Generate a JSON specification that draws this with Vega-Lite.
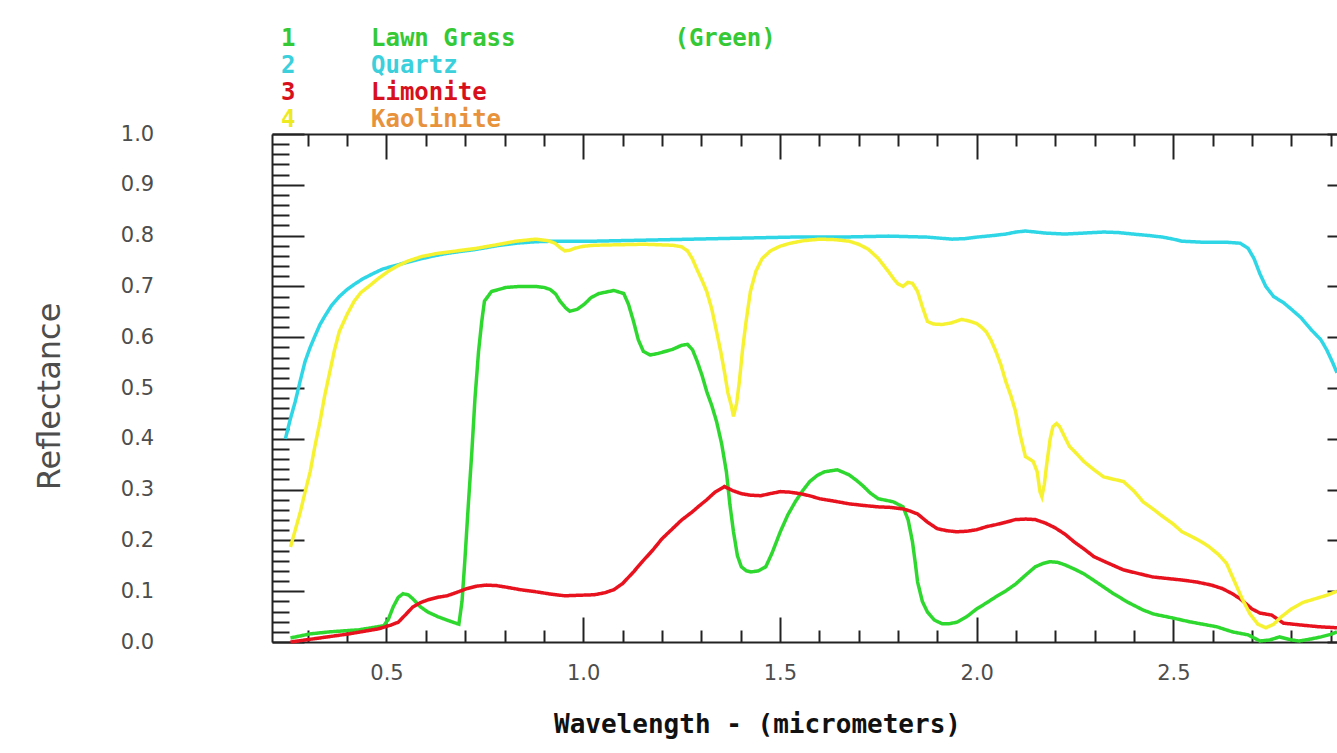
{
  "$schema": "https://vega.github.io/schema/vega-lite/v6.json",
  "width": 1065,
  "height": 508,
  "autosize": {"type": "none"},
  "padding": {"left": 272, "top": 134, "right": 0, "bottom": 111},
  "background": "white",
  "config": {
    "view": {"stroke": null},
    "axis": {
      "domainColor": "#222222",
      "domainWidth": 2,
      "tickColor": "#222222",
      "tickWidth": 2,
      "grid": false,
      "labelFont": "DejaVu Sans",
      "labelFontSize": 21,
      "labelColor": "#4d4d4d",
      "labelOverlap": false,
      "labelFlush": false,
      "labelBound": false
    }
  },
  "data": {
    "values": [
      {"material": "Lawn Grass", "num": 1, "wavelength": 0.256, "reflectance": 0.008},
      {"material": "Lawn Grass", "num": 1, "wavelength": 0.306, "reflectance": 0.016},
      {"material": "Lawn Grass", "num": 1, "wavelength": 0.356, "reflectance": 0.020},
      {"material": "Lawn Grass", "num": 1, "wavelength": 0.43, "reflectance": 0.024},
      {"material": "Lawn Grass", "num": 1, "wavelength": 0.493, "reflectance": 0.032},
      {"material": "Lawn Grass", "num": 1, "wavelength": 0.505, "reflectance": 0.045},
      {"material": "Lawn Grass", "num": 1, "wavelength": 0.517, "reflectance": 0.069},
      {"material": "Lawn Grass", "num": 1, "wavelength": 0.53, "reflectance": 0.088},
      {"material": "Lawn Grass", "num": 1, "wavelength": 0.542, "reflectance": 0.095},
      {"material": "Lawn Grass", "num": 1, "wavelength": 0.555, "reflectance": 0.093},
      {"material": "Lawn Grass", "num": 1, "wavelength": 0.567, "reflectance": 0.085},
      {"material": "Lawn Grass", "num": 1, "wavelength": 0.585, "reflectance": 0.07},
      {"material": "Lawn Grass", "num": 1, "wavelength": 0.605, "reflectance": 0.059},
      {"material": "Lawn Grass", "num": 1, "wavelength": 0.63, "reflectance": 0.05},
      {"material": "Lawn Grass", "num": 1, "wavelength": 0.654, "reflectance": 0.043},
      {"material": "Lawn Grass", "num": 1, "wavelength": 0.684, "reflectance": 0.035},
      {"material": "Lawn Grass", "num": 1, "wavelength": 0.692, "reflectance": 0.08},
      {"material": "Lawn Grass", "num": 1, "wavelength": 0.699, "reflectance": 0.158},
      {"material": "Lawn Grass", "num": 1, "wavelength": 0.708, "reflectance": 0.27},
      {"material": "Lawn Grass", "num": 1, "wavelength": 0.717, "reflectance": 0.375},
      {"material": "Lawn Grass", "num": 1, "wavelength": 0.725, "reflectance": 0.48},
      {"material": "Lawn Grass", "num": 1, "wavelength": 0.734, "reflectance": 0.572},
      {"material": "Lawn Grass", "num": 1, "wavelength": 0.742, "reflectance": 0.63},
      {"material": "Lawn Grass", "num": 1, "wavelength": 0.749, "reflectance": 0.671},
      {"material": "Lawn Grass", "num": 1, "wavelength": 0.767, "reflectance": 0.690},
      {"material": "Lawn Grass", "num": 1, "wavelength": 0.804, "reflectance": 0.698},
      {"material": "Lawn Grass", "num": 1, "wavelength": 0.84, "reflectance": 0.700},
      {"material": "Lawn Grass", "num": 1, "wavelength": 0.879, "reflectance": 0.700},
      {"material": "Lawn Grass", "num": 1, "wavelength": 0.90, "reflectance": 0.698},
      {"material": "Lawn Grass", "num": 1, "wavelength": 0.916, "reflectance": 0.694},
      {"material": "Lawn Grass", "num": 1, "wavelength": 0.93, "reflectance": 0.685},
      {"material": "Lawn Grass", "num": 1, "wavelength": 0.941, "reflectance": 0.671},
      {"material": "Lawn Grass", "num": 1, "wavelength": 0.955, "reflectance": 0.658},
      {"material": "Lawn Grass", "num": 1, "wavelength": 0.966, "reflectance": 0.651},
      {"material": "Lawn Grass", "num": 1, "wavelength": 0.985, "reflectance": 0.655},
      {"material": "Lawn Grass", "num": 1, "wavelength": 1.003, "reflectance": 0.665},
      {"material": "Lawn Grass", "num": 1, "wavelength": 1.02, "reflectance": 0.678},
      {"material": "Lawn Grass", "num": 1, "wavelength": 1.04, "reflectance": 0.686},
      {"material": "Lawn Grass", "num": 1, "wavelength": 1.078, "reflectance": 0.692},
      {"material": "Lawn Grass", "num": 1, "wavelength": 1.103, "reflectance": 0.686},
      {"material": "Lawn Grass", "num": 1, "wavelength": 1.115, "reflectance": 0.665},
      {"material": "Lawn Grass", "num": 1, "wavelength": 1.128, "reflectance": 0.631},
      {"material": "Lawn Grass", "num": 1, "wavelength": 1.14, "reflectance": 0.595},
      {"material": "Lawn Grass", "num": 1, "wavelength": 1.153, "reflectance": 0.572},
      {"material": "Lawn Grass", "num": 1, "wavelength": 1.17, "reflectance": 0.565},
      {"material": "Lawn Grass", "num": 1, "wavelength": 1.19, "reflectance": 0.568},
      {"material": "Lawn Grass", "num": 1, "wavelength": 1.227, "reflectance": 0.576},
      {"material": "Lawn Grass", "num": 1, "wavelength": 1.25, "reflectance": 0.584},
      {"material": "Lawn Grass", "num": 1, "wavelength": 1.265, "reflectance": 0.586},
      {"material": "Lawn Grass", "num": 1, "wavelength": 1.278, "reflectance": 0.575},
      {"material": "Lawn Grass", "num": 1, "wavelength": 1.29, "reflectance": 0.552},
      {"material": "Lawn Grass", "num": 1, "wavelength": 1.302, "reflectance": 0.525},
      {"material": "Lawn Grass", "num": 1, "wavelength": 1.314, "reflectance": 0.493},
      {"material": "Lawn Grass", "num": 1, "wavelength": 1.327, "reflectance": 0.465},
      {"material": "Lawn Grass", "num": 1, "wavelength": 1.339, "reflectance": 0.434},
      {"material": "Lawn Grass", "num": 1, "wavelength": 1.352, "reflectance": 0.39},
      {"material": "Lawn Grass", "num": 1, "wavelength": 1.364, "reflectance": 0.335},
      {"material": "Lawn Grass", "num": 1, "wavelength": 1.373, "reflectance": 0.27},
      {"material": "Lawn Grass", "num": 1, "wavelength": 1.382, "reflectance": 0.217},
      {"material": "Lawn Grass", "num": 1, "wavelength": 1.392, "reflectance": 0.17},
      {"material": "Lawn Grass", "num": 1, "wavelength": 1.402, "reflectance": 0.148},
      {"material": "Lawn Grass", "num": 1, "wavelength": 1.415, "reflectance": 0.14},
      {"material": "Lawn Grass", "num": 1, "wavelength": 1.427, "reflectance": 0.138},
      {"material": "Lawn Grass", "num": 1, "wavelength": 1.445, "reflectance": 0.14},
      {"material": "Lawn Grass", "num": 1, "wavelength": 1.464, "reflectance": 0.148},
      {"material": "Lawn Grass", "num": 1, "wavelength": 1.48, "reflectance": 0.175},
      {"material": "Lawn Grass", "num": 1, "wavelength": 1.501, "reflectance": 0.217},
      {"material": "Lawn Grass", "num": 1, "wavelength": 1.52, "reflectance": 0.25},
      {"material": "Lawn Grass", "num": 1, "wavelength": 1.539, "reflectance": 0.276},
      {"material": "Lawn Grass", "num": 1, "wavelength": 1.558, "reflectance": 0.298},
      {"material": "Lawn Grass", "num": 1, "wavelength": 1.576, "reflectance": 0.316},
      {"material": "Lawn Grass", "num": 1, "wavelength": 1.595, "reflectance": 0.328},
      {"material": "Lawn Grass", "num": 1, "wavelength": 1.613, "reflectance": 0.335},
      {"material": "Lawn Grass", "num": 1, "wavelength": 1.646, "reflectance": 0.339},
      {"material": "Lawn Grass", "num": 1, "wavelength": 1.676, "reflectance": 0.329},
      {"material": "Lawn Grass", "num": 1, "wavelength": 1.695, "reflectance": 0.318},
      {"material": "Lawn Grass", "num": 1, "wavelength": 1.713, "reflectance": 0.306},
      {"material": "Lawn Grass", "num": 1, "wavelength": 1.73, "reflectance": 0.293},
      {"material": "Lawn Grass", "num": 1, "wavelength": 1.750, "reflectance": 0.282},
      {"material": "Lawn Grass", "num": 1, "wavelength": 1.788, "reflectance": 0.276},
      {"material": "Lawn Grass", "num": 1, "wavelength": 1.813, "reflectance": 0.266},
      {"material": "Lawn Grass", "num": 1, "wavelength": 1.826, "reflectance": 0.24},
      {"material": "Lawn Grass", "num": 1, "wavelength": 1.837, "reflectance": 0.197},
      {"material": "Lawn Grass", "num": 1, "wavelength": 1.845, "reflectance": 0.15},
      {"material": "Lawn Grass", "num": 1, "wavelength": 1.850, "reflectance": 0.118},
      {"material": "Lawn Grass", "num": 1, "wavelength": 1.862, "reflectance": 0.08},
      {"material": "Lawn Grass", "num": 1, "wavelength": 1.875, "reflectance": 0.059},
      {"material": "Lawn Grass", "num": 1, "wavelength": 1.893, "reflectance": 0.043},
      {"material": "Lawn Grass", "num": 1, "wavelength": 1.912, "reflectance": 0.036},
      {"material": "Lawn Grass", "num": 1, "wavelength": 1.93, "reflectance": 0.036},
      {"material": "Lawn Grass", "num": 1, "wavelength": 1.950, "reflectance": 0.039},
      {"material": "Lawn Grass", "num": 1, "wavelength": 1.975, "reflectance": 0.05},
      {"material": "Lawn Grass", "num": 1, "wavelength": 2.0, "reflectance": 0.065},
      {"material": "Lawn Grass", "num": 1, "wavelength": 2.025, "reflectance": 0.077},
      {"material": "Lawn Grass", "num": 1, "wavelength": 2.049, "reflectance": 0.089},
      {"material": "Lawn Grass", "num": 1, "wavelength": 2.075, "reflectance": 0.101},
      {"material": "Lawn Grass", "num": 1, "wavelength": 2.099, "reflectance": 0.114},
      {"material": "Lawn Grass", "num": 1, "wavelength": 2.125, "reflectance": 0.132},
      {"material": "Lawn Grass", "num": 1, "wavelength": 2.149, "reflectance": 0.148},
      {"material": "Lawn Grass", "num": 1, "wavelength": 2.17, "reflectance": 0.155},
      {"material": "Lawn Grass", "num": 1, "wavelength": 2.186, "reflectance": 0.158},
      {"material": "Lawn Grass", "num": 1, "wavelength": 2.205, "reflectance": 0.157},
      {"material": "Lawn Grass", "num": 1, "wavelength": 2.224, "reflectance": 0.152},
      {"material": "Lawn Grass", "num": 1, "wavelength": 2.25, "reflectance": 0.143},
      {"material": "Lawn Grass", "num": 1, "wavelength": 2.273, "reflectance": 0.134},
      {"material": "Lawn Grass", "num": 1, "wavelength": 2.31, "reflectance": 0.115},
      {"material": "Lawn Grass", "num": 1, "wavelength": 2.348, "reflectance": 0.095},
      {"material": "Lawn Grass", "num": 1, "wavelength": 2.385, "reflectance": 0.078},
      {"material": "Lawn Grass", "num": 1, "wavelength": 2.423, "reflectance": 0.063},
      {"material": "Lawn Grass", "num": 1, "wavelength": 2.45, "reflectance": 0.055},
      {"material": "Lawn Grass", "num": 1, "wavelength": 2.5, "reflectance": 0.047},
      {"material": "Lawn Grass", "num": 1, "wavelength": 2.54, "reflectance": 0.040},
      {"material": "Lawn Grass", "num": 1, "wavelength": 2.61, "reflectance": 0.030},
      {"material": "Lawn Grass", "num": 1, "wavelength": 2.65, "reflectance": 0.020},
      {"material": "Lawn Grass", "num": 1, "wavelength": 2.69, "reflectance": 0.014},
      {"material": "Lawn Grass", "num": 1, "wavelength": 2.72, "reflectance": 0.002},
      {"material": "Lawn Grass", "num": 1, "wavelength": 2.745, "reflectance": 0.004},
      {"material": "Lawn Grass", "num": 1, "wavelength": 2.77, "reflectance": 0.010},
      {"material": "Lawn Grass", "num": 1, "wavelength": 2.80, "reflectance": 0.004},
      {"material": "Lawn Grass", "num": 1, "wavelength": 2.82, "reflectance": 0.002},
      {"material": "Lawn Grass", "num": 1, "wavelength": 2.85, "reflectance": 0.006},
      {"material": "Lawn Grass", "num": 1, "wavelength": 2.875, "reflectance": 0.010},
      {"material": "Lawn Grass", "num": 1, "wavelength": 2.90, "reflectance": 0.015},
      {"material": "Lawn Grass", "num": 1, "wavelength": 2.916, "reflectance": 0.02},

      {"material": "Quartz", "num": 2, "wavelength": 0.243, "reflectance": 0.40},
      {"material": "Quartz", "num": 2, "wavelength": 0.256, "reflectance": 0.44},
      {"material": "Quartz", "num": 2, "wavelength": 0.268, "reflectance": 0.473},
      {"material": "Quartz", "num": 2, "wavelength": 0.281, "reflectance": 0.515},
      {"material": "Quartz", "num": 2, "wavelength": 0.293, "reflectance": 0.552},
      {"material": "Quartz", "num": 2, "wavelength": 0.306, "reflectance": 0.58},
      {"material": "Quartz", "num": 2, "wavelength": 0.318, "reflectance": 0.602},
      {"material": "Quartz", "num": 2, "wavelength": 0.331, "reflectance": 0.625},
      {"material": "Quartz", "num": 2, "wavelength": 0.343, "reflectance": 0.641},
      {"material": "Quartz", "num": 2, "wavelength": 0.36, "reflectance": 0.662},
      {"material": "Quartz", "num": 2, "wavelength": 0.38, "reflectance": 0.68},
      {"material": "Quartz", "num": 2, "wavelength": 0.40, "reflectance": 0.694},
      {"material": "Quartz", "num": 2, "wavelength": 0.418, "reflectance": 0.704},
      {"material": "Quartz", "num": 2, "wavelength": 0.44, "reflectance": 0.715},
      {"material": "Quartz", "num": 2, "wavelength": 0.468, "reflectance": 0.726},
      {"material": "Quartz", "num": 2, "wavelength": 0.49, "reflectance": 0.734},
      {"material": "Quartz", "num": 2, "wavelength": 0.517, "reflectance": 0.740},
      {"material": "Quartz", "num": 2, "wavelength": 0.55, "reflectance": 0.747},
      {"material": "Quartz", "num": 2, "wavelength": 0.58, "reflectance": 0.753},
      {"material": "Quartz", "num": 2, "wavelength": 0.62, "reflectance": 0.76},
      {"material": "Quartz", "num": 2, "wavelength": 0.654, "reflectance": 0.765},
      {"material": "Quartz", "num": 2, "wavelength": 0.69, "reflectance": 0.769},
      {"material": "Quartz", "num": 2, "wavelength": 0.729, "reflectance": 0.773},
      {"material": "Quartz", "num": 2, "wavelength": 0.78, "reflectance": 0.78},
      {"material": "Quartz", "num": 2, "wavelength": 0.829, "reflectance": 0.785},
      {"material": "Quartz", "num": 2, "wavelength": 0.88, "reflectance": 0.788},
      {"material": "Quartz", "num": 2, "wavelength": 0.928, "reflectance": 0.789},
      {"material": "Quartz", "num": 2, "wavelength": 1.028, "reflectance": 0.789},
      {"material": "Quartz", "num": 2, "wavelength": 1.153, "reflectance": 0.791},
      {"material": "Quartz", "num": 2, "wavelength": 1.278, "reflectance": 0.793},
      {"material": "Quartz", "num": 2, "wavelength": 1.402, "reflectance": 0.795},
      {"material": "Quartz", "num": 2, "wavelength": 1.527, "reflectance": 0.797},
      {"material": "Quartz", "num": 2, "wavelength": 1.651, "reflectance": 0.797},
      {"material": "Quartz", "num": 2, "wavelength": 1.776, "reflectance": 0.799},
      {"material": "Quartz", "num": 2, "wavelength": 1.875, "reflectance": 0.797},
      {"material": "Quartz", "num": 2, "wavelength": 1.937, "reflectance": 0.793},
      {"material": "Quartz", "num": 2, "wavelength": 1.97, "reflectance": 0.794},
      {"material": "Quartz", "num": 2, "wavelength": 2.0, "reflectance": 0.797},
      {"material": "Quartz", "num": 2, "wavelength": 2.04, "reflectance": 0.800},
      {"material": "Quartz", "num": 2, "wavelength": 2.074, "reflectance": 0.803},
      {"material": "Quartz", "num": 2, "wavelength": 2.10, "reflectance": 0.807},
      {"material": "Quartz", "num": 2, "wavelength": 2.124, "reflectance": 0.809},
      {"material": "Quartz", "num": 2, "wavelength": 2.15, "reflectance": 0.807},
      {"material": "Quartz", "num": 2, "wavelength": 2.174, "reflectance": 0.805},
      {"material": "Quartz", "num": 2, "wavelength": 2.224, "reflectance": 0.803},
      {"material": "Quartz", "num": 2, "wavelength": 2.273, "reflectance": 0.805},
      {"material": "Quartz", "num": 2, "wavelength": 2.323, "reflectance": 0.807},
      {"material": "Quartz", "num": 2, "wavelength": 2.36, "reflectance": 0.806},
      {"material": "Quartz", "num": 2, "wavelength": 2.398, "reflectance": 0.803},
      {"material": "Quartz", "num": 2, "wavelength": 2.44, "reflectance": 0.80},
      {"material": "Quartz", "num": 2, "wavelength": 2.473, "reflectance": 0.797},
      {"material": "Quartz", "num": 2, "wavelength": 2.50, "reflectance": 0.793},
      {"material": "Quartz", "num": 2, "wavelength": 2.522, "reflectance": 0.789},
      {"material": "Quartz", "num": 2, "wavelength": 2.572, "reflectance": 0.787},
      {"material": "Quartz", "num": 2, "wavelength": 2.634, "reflectance": 0.787},
      {"material": "Quartz", "num": 2, "wavelength": 2.67, "reflectance": 0.785},
      {"material": "Quartz", "num": 2, "wavelength": 2.69, "reflectance": 0.775},
      {"material": "Quartz", "num": 2, "wavelength": 2.705, "reflectance": 0.755},
      {"material": "Quartz", "num": 2, "wavelength": 2.72, "reflectance": 0.725},
      {"material": "Quartz", "num": 2, "wavelength": 2.735, "reflectance": 0.700},
      {"material": "Quartz", "num": 2, "wavelength": 2.755, "reflectance": 0.680},
      {"material": "Quartz", "num": 2, "wavelength": 2.78, "reflectance": 0.668},
      {"material": "Quartz", "num": 2, "wavelength": 2.80, "reflectance": 0.655},
      {"material": "Quartz", "num": 2, "wavelength": 2.825, "reflectance": 0.638},
      {"material": "Quartz", "num": 2, "wavelength": 2.85, "reflectance": 0.615},
      {"material": "Quartz", "num": 2, "wavelength": 2.875, "reflectance": 0.595},
      {"material": "Quartz", "num": 2, "wavelength": 2.89, "reflectance": 0.575},
      {"material": "Quartz", "num": 2, "wavelength": 2.905, "reflectance": 0.55},
      {"material": "Quartz", "num": 2, "wavelength": 2.916, "reflectance": 0.53},

      {"material": "Limonite", "num": 3, "wavelength": 0.256, "reflectance": 0.0},
      {"material": "Limonite", "num": 3, "wavelength": 0.331, "reflectance": 0.008},
      {"material": "Limonite", "num": 3, "wavelength": 0.405, "reflectance": 0.016},
      {"material": "Limonite", "num": 3, "wavelength": 0.48, "reflectance": 0.026},
      {"material": "Limonite", "num": 3, "wavelength": 0.51, "reflectance": 0.033},
      {"material": "Limonite", "num": 3, "wavelength": 0.530, "reflectance": 0.039},
      {"material": "Limonite", "num": 3, "wavelength": 0.55, "reflectance": 0.055},
      {"material": "Limonite", "num": 3, "wavelength": 0.567, "reflectance": 0.069},
      {"material": "Limonite", "num": 3, "wavelength": 0.585, "reflectance": 0.077},
      {"material": "Limonite", "num": 3, "wavelength": 0.605, "reflectance": 0.083},
      {"material": "Limonite", "num": 3, "wavelength": 0.63, "reflectance": 0.088},
      {"material": "Limonite", "num": 3, "wavelength": 0.654, "reflectance": 0.091},
      {"material": "Limonite", "num": 3, "wavelength": 0.68, "reflectance": 0.098},
      {"material": "Limonite", "num": 3, "wavelength": 0.704, "reflectance": 0.105},
      {"material": "Limonite", "num": 3, "wavelength": 0.73, "reflectance": 0.11},
      {"material": "Limonite", "num": 3, "wavelength": 0.754, "reflectance": 0.112},
      {"material": "Limonite", "num": 3, "wavelength": 0.78, "reflectance": 0.111},
      {"material": "Limonite", "num": 3, "wavelength": 0.804, "reflectance": 0.108},
      {"material": "Limonite", "num": 3, "wavelength": 0.84, "reflectance": 0.103},
      {"material": "Limonite", "num": 3, "wavelength": 0.879, "reflectance": 0.099},
      {"material": "Limonite", "num": 3, "wavelength": 0.92, "reflectance": 0.094},
      {"material": "Limonite", "num": 3, "wavelength": 0.953, "reflectance": 0.091},
      {"material": "Limonite", "num": 3, "wavelength": 0.99, "reflectance": 0.092},
      {"material": "Limonite", "num": 3, "wavelength": 1.028, "reflectance": 0.093},
      {"material": "Limonite", "num": 3, "wavelength": 1.055, "reflectance": 0.097},
      {"material": "Limonite", "num": 3, "wavelength": 1.078, "reflectance": 0.103},
      {"material": "Limonite", "num": 3, "wavelength": 1.10, "reflectance": 0.115},
      {"material": "Limonite", "num": 3, "wavelength": 1.128, "reflectance": 0.138},
      {"material": "Limonite", "num": 3, "wavelength": 1.15, "reflectance": 0.158},
      {"material": "Limonite", "num": 3, "wavelength": 1.177, "reflectance": 0.181},
      {"material": "Limonite", "num": 3, "wavelength": 1.20, "reflectance": 0.203},
      {"material": "Limonite", "num": 3, "wavelength": 1.227, "reflectance": 0.223},
      {"material": "Limonite", "num": 3, "wavelength": 1.25, "reflectance": 0.24},
      {"material": "Limonite", "num": 3, "wavelength": 1.277, "reflectance": 0.256},
      {"material": "Limonite", "num": 3, "wavelength": 1.295, "reflectance": 0.268},
      {"material": "Limonite", "num": 3, "wavelength": 1.314, "reflectance": 0.280},
      {"material": "Limonite", "num": 3, "wavelength": 1.335, "reflectance": 0.295},
      {"material": "Limonite", "num": 3, "wavelength": 1.359, "reflectance": 0.306},
      {"material": "Limonite", "num": 3, "wavelength": 1.38, "reflectance": 0.298},
      {"material": "Limonite", "num": 3, "wavelength": 1.402, "reflectance": 0.292},
      {"material": "Limonite", "num": 3, "wavelength": 1.425, "reflectance": 0.289},
      {"material": "Limonite", "num": 3, "wavelength": 1.451, "reflectance": 0.288},
      {"material": "Limonite", "num": 3, "wavelength": 1.475, "reflectance": 0.292},
      {"material": "Limonite", "num": 3, "wavelength": 1.501, "reflectance": 0.296},
      {"material": "Limonite", "num": 3, "wavelength": 1.525, "reflectance": 0.295},
      {"material": "Limonite", "num": 3, "wavelength": 1.551, "reflectance": 0.292},
      {"material": "Limonite", "num": 3, "wavelength": 1.575, "reflectance": 0.288},
      {"material": "Limonite", "num": 3, "wavelength": 1.601, "reflectance": 0.282},
      {"material": "Limonite", "num": 3, "wavelength": 1.64, "reflectance": 0.277},
      {"material": "Limonite", "num": 3, "wavelength": 1.676, "reflectance": 0.272},
      {"material": "Limonite", "num": 3, "wavelength": 1.71, "reflectance": 0.269},
      {"material": "Limonite", "num": 3, "wavelength": 1.750, "reflectance": 0.266},
      {"material": "Limonite", "num": 3, "wavelength": 1.78, "reflectance": 0.265},
      {"material": "Limonite", "num": 3, "wavelength": 1.813, "reflectance": 0.262},
      {"material": "Limonite", "num": 3, "wavelength": 1.83, "reflectance": 0.258},
      {"material": "Limonite", "num": 3, "wavelength": 1.850, "reflectance": 0.252},
      {"material": "Limonite", "num": 3, "wavelength": 1.875, "reflectance": 0.236},
      {"material": "Limonite", "num": 3, "wavelength": 1.900, "reflectance": 0.223},
      {"material": "Limonite", "num": 3, "wavelength": 1.925, "reflectance": 0.219},
      {"material": "Limonite", "num": 3, "wavelength": 1.950, "reflectance": 0.217},
      {"material": "Limonite", "num": 3, "wavelength": 1.975, "reflectance": 0.218},
      {"material": "Limonite", "num": 3, "wavelength": 2.0, "reflectance": 0.221},
      {"material": "Limonite", "num": 3, "wavelength": 2.025, "reflectance": 0.227},
      {"material": "Limonite", "num": 3, "wavelength": 2.049, "reflectance": 0.231},
      {"material": "Limonite", "num": 3, "wavelength": 2.075, "reflectance": 0.236},
      {"material": "Limonite", "num": 3, "wavelength": 2.099, "reflectance": 0.241},
      {"material": "Limonite", "num": 3, "wavelength": 2.125, "reflectance": 0.242},
      {"material": "Limonite", "num": 3, "wavelength": 2.149, "reflectance": 0.241},
      {"material": "Limonite", "num": 3, "wavelength": 2.175, "reflectance": 0.234},
      {"material": "Limonite", "num": 3, "wavelength": 2.199, "reflectance": 0.225},
      {"material": "Limonite", "num": 3, "wavelength": 2.225, "reflectance": 0.212},
      {"material": "Limonite", "num": 3, "wavelength": 2.248, "reflectance": 0.197},
      {"material": "Limonite", "num": 3, "wavelength": 2.275, "reflectance": 0.182},
      {"material": "Limonite", "num": 3, "wavelength": 2.298, "reflectance": 0.168},
      {"material": "Limonite", "num": 3, "wavelength": 2.335, "reflectance": 0.155},
      {"material": "Limonite", "num": 3, "wavelength": 2.373, "reflectance": 0.142},
      {"material": "Limonite", "num": 3, "wavelength": 2.41, "reflectance": 0.135},
      {"material": "Limonite", "num": 3, "wavelength": 2.448, "reflectance": 0.128},
      {"material": "Limonite", "num": 3, "wavelength": 2.485, "reflectance": 0.125},
      {"material": "Limonite", "num": 3, "wavelength": 2.522, "reflectance": 0.122},
      {"material": "Limonite", "num": 3, "wavelength": 2.56, "reflectance": 0.118},
      {"material": "Limonite", "num": 3, "wavelength": 2.597, "reflectance": 0.112},
      {"material": "Limonite", "num": 3, "wavelength": 2.625, "reflectance": 0.105},
      {"material": "Limonite", "num": 3, "wavelength": 2.65, "reflectance": 0.095},
      {"material": "Limonite", "num": 3, "wavelength": 2.67, "reflectance": 0.085},
      {"material": "Limonite", "num": 3, "wavelength": 2.685, "reflectance": 0.075},
      {"material": "Limonite", "num": 3, "wavelength": 2.70, "reflectance": 0.065},
      {"material": "Limonite", "num": 3, "wavelength": 2.72, "reflectance": 0.057},
      {"material": "Limonite", "num": 3, "wavelength": 2.75, "reflectance": 0.053},
      {"material": "Limonite", "num": 3, "wavelength": 2.765, "reflectance": 0.045},
      {"material": "Limonite", "num": 3, "wavelength": 2.78, "reflectance": 0.037},
      {"material": "Limonite", "num": 3, "wavelength": 2.83, "reflectance": 0.033},
      {"material": "Limonite", "num": 3, "wavelength": 2.87, "reflectance": 0.03},
      {"material": "Limonite", "num": 3, "wavelength": 2.916, "reflectance": 0.028},

      {"material": "Kaolinite", "num": 4, "wavelength": 0.256, "reflectance": 0.187},
      {"material": "Kaolinite", "num": 4, "wavelength": 0.268, "reflectance": 0.22},
      {"material": "Kaolinite", "num": 4, "wavelength": 0.281, "reflectance": 0.256},
      {"material": "Kaolinite", "num": 4, "wavelength": 0.293, "reflectance": 0.295},
      {"material": "Kaolinite", "num": 4, "wavelength": 0.306, "reflectance": 0.335},
      {"material": "Kaolinite", "num": 4, "wavelength": 0.318, "reflectance": 0.385},
      {"material": "Kaolinite", "num": 4, "wavelength": 0.331, "reflectance": 0.434},
      {"material": "Kaolinite", "num": 4, "wavelength": 0.343, "reflectance": 0.485},
      {"material": "Kaolinite", "num": 4, "wavelength": 0.356, "reflectance": 0.532},
      {"material": "Kaolinite", "num": 4, "wavelength": 0.368, "reflectance": 0.575},
      {"material": "Kaolinite", "num": 4, "wavelength": 0.380, "reflectance": 0.611},
      {"material": "Kaolinite", "num": 4, "wavelength": 0.40, "reflectance": 0.645},
      {"material": "Kaolinite", "num": 4, "wavelength": 0.418, "reflectance": 0.671},
      {"material": "Kaolinite", "num": 4, "wavelength": 0.435, "reflectance": 0.688},
      {"material": "Kaolinite", "num": 4, "wavelength": 0.455, "reflectance": 0.700},
      {"material": "Kaolinite", "num": 4, "wavelength": 0.48, "reflectance": 0.716},
      {"material": "Kaolinite", "num": 4, "wavelength": 0.505, "reflectance": 0.730},
      {"material": "Kaolinite", "num": 4, "wavelength": 0.53, "reflectance": 0.741},
      {"material": "Kaolinite", "num": 4, "wavelength": 0.555, "reflectance": 0.75},
      {"material": "Kaolinite", "num": 4, "wavelength": 0.59, "reflectance": 0.759},
      {"material": "Kaolinite", "num": 4, "wavelength": 0.630, "reflectance": 0.765},
      {"material": "Kaolinite", "num": 4, "wavelength": 0.68, "reflectance": 0.770},
      {"material": "Kaolinite", "num": 4, "wavelength": 0.729, "reflectance": 0.775},
      {"material": "Kaolinite", "num": 4, "wavelength": 0.78, "reflectance": 0.782},
      {"material": "Kaolinite", "num": 4, "wavelength": 0.829, "reflectance": 0.789},
      {"material": "Kaolinite", "num": 4, "wavelength": 0.879, "reflectance": 0.793},
      {"material": "Kaolinite", "num": 4, "wavelength": 0.91, "reflectance": 0.79},
      {"material": "Kaolinite", "num": 4, "wavelength": 0.928, "reflectance": 0.785},
      {"material": "Kaolinite", "num": 4, "wavelength": 0.942, "reflectance": 0.776},
      {"material": "Kaolinite", "num": 4, "wavelength": 0.953, "reflectance": 0.770},
      {"material": "Kaolinite", "num": 4, "wavelength": 0.965, "reflectance": 0.771},
      {"material": "Kaolinite", "num": 4, "wavelength": 0.978, "reflectance": 0.775},
      {"material": "Kaolinite", "num": 4, "wavelength": 1.0, "reflectance": 0.779},
      {"material": "Kaolinite", "num": 4, "wavelength": 1.028, "reflectance": 0.781},
      {"material": "Kaolinite", "num": 4, "wavelength": 1.09, "reflectance": 0.782},
      {"material": "Kaolinite", "num": 4, "wavelength": 1.153, "reflectance": 0.783},
      {"material": "Kaolinite", "num": 4, "wavelength": 1.227, "reflectance": 0.781},
      {"material": "Kaolinite", "num": 4, "wavelength": 1.25, "reflectance": 0.778},
      {"material": "Kaolinite", "num": 4, "wavelength": 1.265, "reflectance": 0.770},
      {"material": "Kaolinite", "num": 4, "wavelength": 1.277, "reflectance": 0.755},
      {"material": "Kaolinite", "num": 4, "wavelength": 1.29, "reflectance": 0.732},
      {"material": "Kaolinite", "num": 4, "wavelength": 1.302, "reflectance": 0.712},
      {"material": "Kaolinite", "num": 4, "wavelength": 1.314, "reflectance": 0.690},
      {"material": "Kaolinite", "num": 4, "wavelength": 1.327, "reflectance": 0.655},
      {"material": "Kaolinite", "num": 4, "wavelength": 1.339, "reflectance": 0.611},
      {"material": "Kaolinite", "num": 4, "wavelength": 1.35, "reflectance": 0.57},
      {"material": "Kaolinite", "num": 4, "wavelength": 1.359, "reflectance": 0.532},
      {"material": "Kaolinite", "num": 4, "wavelength": 1.368, "reflectance": 0.49},
      {"material": "Kaolinite", "num": 4, "wavelength": 1.377, "reflectance": 0.464},
      {"material": "Kaolinite", "num": 4, "wavelength": 1.382, "reflectance": 0.444},
      {"material": "Kaolinite", "num": 4, "wavelength": 1.39, "reflectance": 0.47},
      {"material": "Kaolinite", "num": 4, "wavelength": 1.397, "reflectance": 0.513},
      {"material": "Kaolinite", "num": 4, "wavelength": 1.405, "reflectance": 0.575},
      {"material": "Kaolinite", "num": 4, "wavelength": 1.414, "reflectance": 0.631},
      {"material": "Kaolinite", "num": 4, "wavelength": 1.425, "reflectance": 0.69},
      {"material": "Kaolinite", "num": 4, "wavelength": 1.439, "reflectance": 0.730},
      {"material": "Kaolinite", "num": 4, "wavelength": 1.455, "reflectance": 0.755},
      {"material": "Kaolinite", "num": 4, "wavelength": 1.476, "reflectance": 0.770},
      {"material": "Kaolinite", "num": 4, "wavelength": 1.5, "reflectance": 0.779},
      {"material": "Kaolinite", "num": 4, "wavelength": 1.526, "reflectance": 0.785},
      {"material": "Kaolinite", "num": 4, "wavelength": 1.56, "reflectance": 0.79},
      {"material": "Kaolinite", "num": 4, "wavelength": 1.601, "reflectance": 0.793},
      {"material": "Kaolinite", "num": 4, "wavelength": 1.64, "reflectance": 0.792},
      {"material": "Kaolinite", "num": 4, "wavelength": 1.676, "reflectance": 0.789},
      {"material": "Kaolinite", "num": 4, "wavelength": 1.70, "reflectance": 0.783},
      {"material": "Kaolinite", "num": 4, "wavelength": 1.725, "reflectance": 0.773},
      {"material": "Kaolinite", "num": 4, "wavelength": 1.75, "reflectance": 0.755},
      {"material": "Kaolinite", "num": 4, "wavelength": 1.775, "reflectance": 0.730},
      {"material": "Kaolinite", "num": 4, "wavelength": 1.79, "reflectance": 0.714},
      {"material": "Kaolinite", "num": 4, "wavelength": 1.80, "reflectance": 0.705},
      {"material": "Kaolinite", "num": 4, "wavelength": 1.813, "reflectance": 0.700},
      {"material": "Kaolinite", "num": 4, "wavelength": 1.825, "reflectance": 0.708},
      {"material": "Kaolinite", "num": 4, "wavelength": 1.837, "reflectance": 0.706},
      {"material": "Kaolinite", "num": 4, "wavelength": 1.850, "reflectance": 0.690},
      {"material": "Kaolinite", "num": 4, "wavelength": 1.862, "reflectance": 0.66},
      {"material": "Kaolinite", "num": 4, "wavelength": 1.875, "reflectance": 0.631},
      {"material": "Kaolinite", "num": 4, "wavelength": 1.89, "reflectance": 0.626},
      {"material": "Kaolinite", "num": 4, "wavelength": 1.912, "reflectance": 0.625},
      {"material": "Kaolinite", "num": 4, "wavelength": 1.935, "reflectance": 0.628},
      {"material": "Kaolinite", "num": 4, "wavelength": 1.962, "reflectance": 0.635},
      {"material": "Kaolinite", "num": 4, "wavelength": 1.98, "reflectance": 0.632},
      {"material": "Kaolinite", "num": 4, "wavelength": 2.0, "reflectance": 0.627},
      {"material": "Kaolinite", "num": 4, "wavelength": 2.012, "reflectance": 0.62},
      {"material": "Kaolinite", "num": 4, "wavelength": 2.024, "reflectance": 0.611},
      {"material": "Kaolinite", "num": 4, "wavelength": 2.036, "reflectance": 0.595},
      {"material": "Kaolinite", "num": 4, "wavelength": 2.049, "reflectance": 0.572},
      {"material": "Kaolinite", "num": 4, "wavelength": 2.062, "reflectance": 0.545},
      {"material": "Kaolinite", "num": 4, "wavelength": 2.074, "reflectance": 0.513},
      {"material": "Kaolinite", "num": 4, "wavelength": 2.087, "reflectance": 0.485},
      {"material": "Kaolinite", "num": 4, "wavelength": 2.099, "reflectance": 0.454},
      {"material": "Kaolinite", "num": 4, "wavelength": 2.11, "reflectance": 0.41},
      {"material": "Kaolinite", "num": 4, "wavelength": 2.124, "reflectance": 0.365},
      {"material": "Kaolinite", "num": 4, "wavelength": 2.135, "reflectance": 0.36},
      {"material": "Kaolinite", "num": 4, "wavelength": 2.144, "reflectance": 0.355},
      {"material": "Kaolinite", "num": 4, "wavelength": 2.154, "reflectance": 0.335},
      {"material": "Kaolinite", "num": 4, "wavelength": 2.161, "reflectance": 0.296},
      {"material": "Kaolinite", "num": 4, "wavelength": 2.166, "reflectance": 0.286},
      {"material": "Kaolinite", "num": 4, "wavelength": 2.172, "reflectance": 0.31},
      {"material": "Kaolinite", "num": 4, "wavelength": 2.179, "reflectance": 0.355},
      {"material": "Kaolinite", "num": 4, "wavelength": 2.187, "reflectance": 0.40},
      {"material": "Kaolinite", "num": 4, "wavelength": 2.194, "reflectance": 0.424},
      {"material": "Kaolinite", "num": 4, "wavelength": 2.203, "reflectance": 0.43},
      {"material": "Kaolinite", "num": 4, "wavelength": 2.211, "reflectance": 0.424},
      {"material": "Kaolinite", "num": 4, "wavelength": 2.223, "reflectance": 0.405},
      {"material": "Kaolinite", "num": 4, "wavelength": 2.236, "reflectance": 0.385},
      {"material": "Kaolinite", "num": 4, "wavelength": 2.255, "reflectance": 0.37},
      {"material": "Kaolinite", "num": 4, "wavelength": 2.273, "reflectance": 0.355},
      {"material": "Kaolinite", "num": 4, "wavelength": 2.30, "reflectance": 0.338},
      {"material": "Kaolinite", "num": 4, "wavelength": 2.323, "reflectance": 0.325},
      {"material": "Kaolinite", "num": 4, "wavelength": 2.35, "reflectance": 0.32},
      {"material": "Kaolinite", "num": 4, "wavelength": 2.373, "reflectance": 0.316},
      {"material": "Kaolinite", "num": 4, "wavelength": 2.40, "reflectance": 0.297},
      {"material": "Kaolinite", "num": 4, "wavelength": 2.423, "reflectance": 0.276},
      {"material": "Kaolinite", "num": 4, "wavelength": 2.448, "reflectance": 0.262},
      {"material": "Kaolinite", "num": 4, "wavelength": 2.473, "reflectance": 0.247},
      {"material": "Kaolinite", "num": 4, "wavelength": 2.50, "reflectance": 0.232},
      {"material": "Kaolinite", "num": 4, "wavelength": 2.522, "reflectance": 0.217},
      {"material": "Kaolinite", "num": 4, "wavelength": 2.548, "reflectance": 0.207},
      {"material": "Kaolinite", "num": 4, "wavelength": 2.572, "reflectance": 0.197},
      {"material": "Kaolinite", "num": 4, "wavelength": 2.59, "reflectance": 0.188},
      {"material": "Kaolinite", "num": 4, "wavelength": 2.615, "reflectance": 0.172},
      {"material": "Kaolinite", "num": 4, "wavelength": 2.635, "reflectance": 0.155},
      {"material": "Kaolinite", "num": 4, "wavelength": 2.655, "reflectance": 0.12},
      {"material": "Kaolinite", "num": 4, "wavelength": 2.675, "reflectance": 0.085},
      {"material": "Kaolinite", "num": 4, "wavelength": 2.695, "reflectance": 0.055},
      {"material": "Kaolinite", "num": 4, "wavelength": 2.715, "reflectance": 0.035},
      {"material": "Kaolinite", "num": 4, "wavelength": 2.735, "reflectance": 0.028},
      {"material": "Kaolinite", "num": 4, "wavelength": 2.755, "reflectance": 0.035},
      {"material": "Kaolinite", "num": 4, "wavelength": 2.775, "reflectance": 0.05},
      {"material": "Kaolinite", "num": 4, "wavelength": 2.80, "reflectance": 0.065},
      {"material": "Kaolinite", "num": 4, "wavelength": 2.83, "reflectance": 0.078},
      {"material": "Kaolinite", "num": 4, "wavelength": 2.86, "reflectance": 0.085},
      {"material": "Kaolinite", "num": 4, "wavelength": 2.89, "reflectance": 0.092},
      {"material": "Kaolinite", "num": 4, "wavelength": 2.916, "reflectance": 0.10}
    ]
  },
  "encoding": {
    "color": {
      "field": "material",
      "type": "nominal",
      "scale": {
        "domain": ["Lawn Grass", "Quartz", "Limonite", "Kaolinite"],
        "range": ["#2fd82f", "#2ed6e6", "#e8121e", "#f6f232"]
      },
      "legend": {
        "orient": "none",
        "legendX": 75,
        "legendY": -107,
        "title": null,
        "padding": 0,
        "symbolOpacity": 0,
        "symbolSize": 0,
        "symbolStrokeWidth": 0,
        "labelOffset": 0,
        "rowPadding": 3,
        "labelLimit": 1000,
        "labelFont": "DejaVu Sans Mono",
        "labelFontSize": 24,
        "labelFontWeight": "bold",
        "labelColor": {"expr": "datum.label == 'Quartz' ? '#3cd0dc' : datum.label == 'Limonite' ? '#d8101c' : datum.label == 'Kaolinite' ? '#e8923c' : '#35c935'"},
        "labelExpr": "datum.label == 'Lawn Grass' ? 'Lawn Grass\u00a0\u00a0\u00a0\u00a0\u00a0\u00a0\u00a0\u00a0\u00a0\u00a0\u00a0(Green)' : datum.label"
      }
    },
    "strokeDash": {
      "field": "num",
      "type": "nominal",
      "scale": {"domain": [1, 2, 3, 4], "range": [[1, 0], [1, 0], [1, 0], [1, 0]]},
      "legend": {
        "orient": "none",
        "legendX": -15,
        "legendY": -107,
        "title": null,
        "padding": 0,
        "symbolOpacity": 0,
        "symbolSize": 0,
        "symbolStrokeWidth": 0,
        "labelOffset": 0,
        "rowPadding": 3,
        "labelFont": "DejaVu Sans Mono",
        "labelFontSize": 24,
        "labelFontWeight": "bold",
        "labelColor": {"expr": "datum.label == '2' ? '#3cd0dc' : datum.label == '3' ? '#d8101c' : datum.label == '4' ? '#eeea22' : '#35c935'"}
      }
    }
  },
  "layer": [
    {
      "transform": [{"filter": "datum.num <= 2"}],
      "mark": {"type": "line", "strokeWidth": 3.5},
      "encoding": {
        "x": {
          "field": "wavelength",
          "type": "quantitative",
          "scale": {"domain": [0.209, 2.916], "nice": false, "zero": false},
          "axis": {
            "orient": "bottom",
            "values": [0.3, 0.4, 0.5, 0.6, 0.7, 0.8, 0.9, 1.0, 1.1, 1.2, 1.3, 1.4, 1.5, 1.6, 1.7, 1.8, 1.9, 2.0, 2.1, 2.2, 2.3, 2.4, 2.5, 2.6, 2.7, 2.8, 2.9],
            "tickSize": {"condition": {"test": "abs(datum.value*2 - round(datum.value*2)) < 0.001", "value": -25}, "value": -12},
            "labelExpr": "abs(datum.value*2 - round(datum.value*2)) < 0.001 ? format(datum.value, '.1f') : ''",
            "labelPadding": 56,
            "labelAlign": "center",
            "labelBaseline": "middle",
            "title": "Wavelength - (micrometers)",
            "titleX": 485,
            "titleY": 82,
            "titleAlign": "center",
            "titleBaseline": "middle",
            "titleFont": "DejaVu Sans Mono",
            "titleFontSize": 26,
            "titleFontWeight": "bold",
            "titleColor": "#111111"
          }
        },
        "y": {
          "field": "reflectance",
          "type": "quantitative",
          "scale": {"domain": [0, 1], "nice": false},
          "axis": {
            "orient": "left",
            "values": [0, 0.02, 0.04, 0.06, 0.08, 0.1, 0.12, 0.14, 0.16, 0.18, 0.2, 0.22, 0.24, 0.26, 0.28, 0.3, 0.32, 0.34, 0.36, 0.38, 0.4, 0.42, 0.44, 0.46, 0.48, 0.5, 0.52, 0.54, 0.56, 0.58, 0.6, 0.62, 0.64, 0.66, 0.68, 0.7, 0.72, 0.74, 0.76, 0.78, 0.8, 0.82, 0.84, 0.86, 0.88, 0.9, 0.92, 0.94, 0.96, 0.98, 1.0],
            "tickSize": {"condition": {"test": "abs(datum.value*10 - round(datum.value*10)) < 0.001", "value": -32}, "value": -17},
            "labelExpr": "abs(datum.value*10 - round(datum.value*10)) < 0.001 ? format(datum.value, '.1f') : ''",
            "labelPadding": 167,
            "labelAlign": "center",
            "labelBaseline": "middle",
            "title": "Reflectance",
            "titleX": -223,
            "titleY": 262,
            "titleAngle": 270,
            "titleAlign": "center",
            "titleBaseline": "middle",
            "titleFont": "DejaVu Sans",
            "titleFontSize": 32,
            "titleFontWeight": "normal",
            "titleColor": "#4d4d4d"
          }
        }
      }
    },
    {
      "transform": [{"filter": "datum.num >= 3"}],
      "mark": {"type": "line", "strokeWidth": 3.5},
      "encoding": {
        "x": {
          "field": "wavelength",
          "type": "quantitative",
          "scale": {"domain": [0.209, 2.916], "nice": false, "zero": false},
          "axis": {
            "orient": "top",
            "values": [0.3, 0.4, 0.5, 0.6, 0.7, 0.8, 0.9, 1.0, 1.1, 1.2, 1.3, 1.4, 1.5, 1.6, 1.7, 1.8, 1.9, 2.0, 2.1, 2.2, 2.3, 2.4, 2.5, 2.6, 2.7, 2.8, 2.9],
            "tickSize": {"condition": {"test": "abs(datum.value*2 - round(datum.value*2)) < 0.001", "value": -25}, "value": -12},
            "labels": false,
            "title": null
          }
        },
        "y": {
          "field": "reflectance",
          "type": "quantitative",
          "scale": {"domain": [0, 1], "nice": false},
          "axis": {
            "orient": "right",
            "values": [0, 0.1, 0.2, 0.3, 0.4, 0.5, 0.6, 0.7, 0.8, 0.9, 1.0],
            "tickSize": -10,
            "labels": false,
            "domain": false,
            "title": null
          }
        }
      }
    }
  ],
  "resolve": {"axis": {"x": "independent", "y": "independent"}}
}
